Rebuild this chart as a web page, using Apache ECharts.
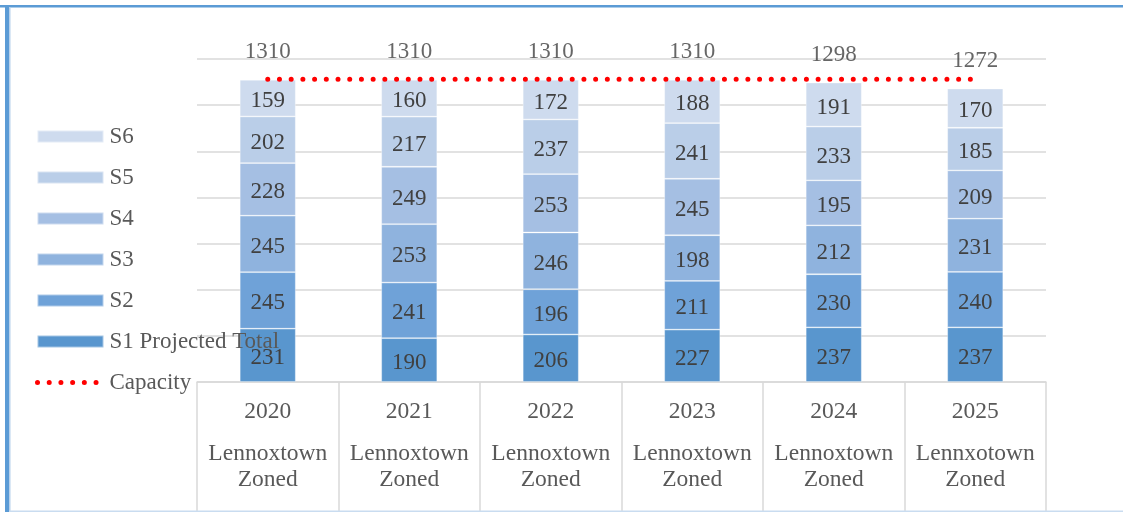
<!DOCTYPE html>
<html>
<head>
<meta charset="utf-8">
<script src="https://cdn.jsdelivr.net/npm/echarts@6/dist/echarts.min.js"></script>
<style>
html,body{margin:0;padding:0;background:#fff;}
#c{width:1123px;height:512px;}
</style>
</head>
<body>
<div id="c"></div>
<script>
const years = ['2020', '2021', '2022', '2023', '2024', '2025'];
const areaNames = ['Lennoxtown', 'Lennoxtown', 'Lennoxtown', 'Lennoxtown', 'Lennoxtown', 'Lennxotown'];
const S1 = [231, 190, 206, 227, 237, 237];
const S2 = [245, 241, 196, 211, 230, 240];
const S3 = [245, 253, 246, 198, 212, 231];
const S4 = [228, 249, 253, 245, 195, 209];
const S5 = [202, 217, 237, 241, 233, 185];
const S6 = [159, 160, 172, 188, 191, 170];
const projectedTotal = [1310, 1310, 1310, 1310, 1298, 1272];
const capacity = [1312, 1312, 1312, 1312, 1312, 1312];

const FONT = '"Liberation Serif", "Times New Roman", serif';
const DOTS = {color: '#FF0000', width: 5, type: [0.01, 11.7], cap: 'round'};
const stackSeries = [
  {name: 'S1', data: S1, color: '#5996CE'},
  {name: 'S2', data: S2, color: '#6FA2D8'},
  {name: 'S3', data: S3, color: '#8FB3DE'},
  {name: 'S4', data: S4, color: '#A5BFE3'},
  {name: 'S5', data: S5, color: '#BACEE8'},
  {name: 'S6', data: S6, color: '#CEDBEE'}
];

const series = stackSeries.map(s => ({
  name: s.name,
  type: 'bar',
  stack: 'total',
  data: s.data,
  barWidth: 56,
  itemStyle: {color: s.color, borderColor: 'rgba(255,255,255,0.45)', borderWidth: 0.8},
  label: {show: true, position: 'inside', offset: [0, 3], color: '#404040', fontFamily: FONT, fontSize: 23},
  emphasis: {disabled: true}
}));

series.push({
  name: 'Projected Total',
  type: 'scatter',
  data: projectedTotal,
  symbolSize: 0,
  label: {show: true, position: 'top', distance: 16, color: '#404040', fontFamily: FONT, fontSize: 23},
  z: 5
});

series.push({
  name: 'Capacity',
  type: 'line',
  data: capacity,
  symbol: 'none',
  lineStyle: DOTS,
  itemStyle: {color: '#FF0000'},
  z: 6
});

const chart = echarts.init(document.getElementById('c'), null, {renderer: 'canvas'});
chart.setOption({
  animation: false,
  backgroundColor: '#fff',
  textStyle: {fontFamily: FONT},
  grid: {left: 197, right: 77, top: 59, bottom: 130, containLabel: false},
  legend: {
    orient: 'vertical',
    left: 30,
    top: 120,
    itemWidth: 66,
    itemHeight: 12,
    itemGap: 18,
    data: [
      {name: 'S6', icon: 'rect'}, {name: 'S5', icon: 'rect'}, {name: 'S4', icon: 'rect'},
      {name: 'S3', icon: 'rect'}, {name: 'S2', icon: 'rect'}, {name: 'S1', icon: 'rect'},
      {name: 'Capacity', lineStyle: DOTS, itemStyle: {opacity: 0}}
    ],
    formatter: n => n === 'S1' ? 'S1 Projected Total' : n,
    textStyle: {fontFamily: FONT, fontSize: 23, color: '#595959', lineHeight: 23, padding: [0, 0, 0, 1]},
    selectedMode: false,
    z: 10
  },
  xAxis: {
    type: 'category',
    data: years,
    axisLine: {lineStyle: {color: '#D9D9D9', width: 1.5}},
    axisTick: {show: true, length: 132, interval: 0, lineStyle: {color: '#D9D9D9', width: 1.5}},
    axisLabel: {
      interval: 0,
      margin: 17,
      formatter: (v, i) => '{y|' + v + '}\n{s| }\n{n|' + areaNames[i] + '}\n{n|Zoned}',
      rich: {
        y: {fontFamily: FONT, fontSize: 23.5, color: '#595959', lineHeight: 26},
        s: {fontSize: 10, lineHeight: 16},
        n: {fontFamily: FONT, fontSize: 23.5, color: '#595959', lineHeight: 26}
      }
    }
  },
  yAxis: {
    type: 'value',
    min: 0, max: 1400, interval: 200,
    axisLabel: {show: false},
    axisLine: {show: false},
    axisTick: {show: false},
    splitLine: {lineStyle: {color: '#D9D9D9', width: 1.5}}
  },
  graphic: [
    {type: 'rect', shape: {x: 0, y: 5, width: 1123, height: 2.5}, style: {fill: '#5B9BD5'}, z: 100},
    {type: 'rect', shape: {x: 5, y: 5, width: 4, height: 507}, style: {fill: '#5B9BD5'}, z: 100},
    {type: 'rect', shape: {x: 9, y: 7, width: 1.5, height: 505}, style: {fill: '#B7D1EC'}, z: 100},
    {type: 'rect', shape: {x: 9, y: 510.5, width: 1114, height: 1.5}, style: {fill: '#C9DCF0'}, z: 100}
  ],
  series: series
});
</script>
</body>
</html>
